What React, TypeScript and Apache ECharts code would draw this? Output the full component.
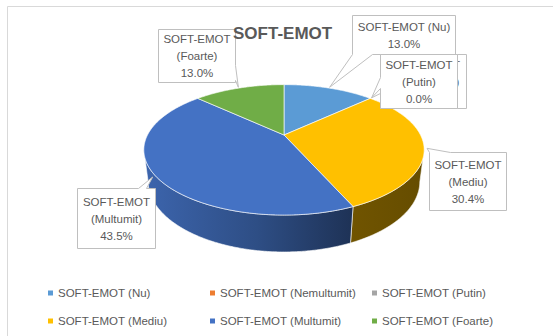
import React, { useEffect, useRef } from "react";
import * as echarts from "echarts";

// ---- data ----
const title = "SOFT-EMOT";
const categories = [
  "SOFT-EMOT (Nu)",
  "SOFT-EMOT (Nemultumit)",
  "SOFT-EMOT (Putin)",
  "SOFT-EMOT (Mediu)",
  "SOFT-EMOT (Multumit)",
  "SOFT-EMOT (Foarte)",
];
const percents = [13.0, 0.0, 0.0, 30.4, 43.5, 13.0];
const colors = ["#5B9BD5", "#ED7D31", "#A5A5A5", "#FFC000", "#4472C4", "#70AD47"];

// ---- layout (positions / sizes, not data) ----
const FONT = "Liberation Sans";
const CX = 284;
const CY = 135;
const R = 136.5;
const SIN_A = 0.453;
const COS_A = Math.sqrt(1 - SIN_A * SIN_A);
const DIST = 535;
const DEPTH = 36;

const calloutBoxes = [
  { x: 352, y: 15, w: 103, h: 39, wrap: false, side: "bottom", a: 352, b: 372 },
  { x: 386, y: 54, w: 80, h: 54, wrap: true, side: "left", a: 78, b: 90 },
  { x: 380, y: 54, w: 77, h: 54, wrap: true, side: "left", a: 77, b: 88 },
  { x: 429, y: 152, w: 77, h: 58, wrap: true, side: "top", a: 429, b: 450 },
  { x: 77, y: 188, w: 78, h: 60, wrap: true, side: "top", a: 138, b: 146 },
  { x: 158, y: 29, w: 77, h: 53, wrap: true, side: "right", a: 65, b: 80 },
];
const legendCols = [48, 210, 372];
const legendRows = [287, 315];

function proj(theta: number, w: number, r = 1): [number, number] {
  const u = R * r * Math.sin(theta);
  const v = R * r * Math.cos(theta);
  const z = v * COS_A - w * SIN_A;
  const s = DIST / (DIST + z);
  return [CX + s * u, CY - s * (v * SIN_A + w * COS_A)];
}

function arc(t1: number, t2: number, w: number): [number, number][] {
  const pts: [number, number][] = [];
  const n = Math.max(2, Math.ceil(Math.abs(t2 - t1) / 0.01));
  for (let i = 0; i <= n; i++) pts.push(proj(t1 + ((t2 - t1) * i) / n, w));
  return pts;
}

function shade(hex: string, f: number) {
  const n = parseInt(hex.slice(1), 16);
  const r = Math.round(((n >> 16) & 255) * f);
  const g = Math.round(((n >> 8) & 255) * f);
  const b = Math.round((n & 255) * f);
  return `rgb(${r},${g},${b})`;
}

const total = percents.reduce((s, v) => s + v, 0);
const angles: { t1: number; t2: number }[] = [];
{
  let acc = 0;
  percents.forEach((v) => {
    const t1 = (acc / total) * Math.PI * 2;
    acc += v;
    const t2 = (acc / total) * Math.PI * 2;
    angles.push({ t1, t2 });
  });
}
const RC = R * COS_A;
const SIL1 = Math.acos(-RC / DIST);
const SIL2 = Math.PI * 2 - SIL1;

export default function App() {
  const ref = useRef<HTMLDivElement>(null);
  useEffect(() => {
    if (!ref.current) return;
    const chart = echarts.init(ref.current, null, { renderer: "svg" });

    const option: any = {
      animation: false,
      title: {
        text: title,
        left: 233,
        top: 25,
        padding: 0,
        textStyle: { fontFamily: FONT, fontSize: 17, fontWeight: "bold", color: "#595959" },
      },
      graphic: [
        {
          type: "rect",
          shape: { x: 7.5, y: 6.5, width: 600, height: 400 },
          style: { fill: "none", stroke: "#D9D9D9", lineWidth: 1 },
          silent: true,
          z: -10,
        },
      ],
      legend: categories.map((name, i) => ({
        data: [name],
        left: legendCols[i % 3],
        top: legendRows[Math.floor(i / 3)],
        icon: "rect",
        itemWidth: 5,
        itemHeight: 5,
        padding: 0,
        selectedMode: false,
        textStyle: { fontFamily: FONT, fontSize: 11.5, color: "#595959" },
      })),
      series: [
        {
          type: "pie",
          name: "legend-source",
          center: [-500, -500],
          radius: 5,
          silent: true,
          label: { show: false },
          labelLine: { show: false },
          data: categories.map((name, i) => ({
            name,
            value: percents[i],
            itemStyle: { color: colors[i] },
          })),
        },
        {
          type: "custom",
          name: "walls",
          coordinateSystem: "none",
          z: 2,
          silent: true,
          data: percents,
          renderItem: (params: any) => {
            const i = params.dataIndex;
            const { t1, t2 } = angles[i];
            const a = Math.max(t1, SIL1);
            const b = Math.min(t2, SIL2);
            if (!(b > a)) return null;
            const pts = arc(a, b, 0).concat(arc(b, a, -DEPTH));
            const c = colors[i];
            return {
              type: "polygon",
              shape: { points: pts },
              style: {
                fill: new echarts.graphic.LinearGradient(
                  CX - R,
                  0,
                  CX + R,
                  0,
                  [
                    { offset: 0, color: shade(c, 0.88) },
                    { offset: 0.4, color: shade(c, 0.68) },
                    { offset: 0.75, color: shade(c, 0.44) },
                    { offset: 1, color: shade(c, 0.4) },
                  ],
                  true
                ),
                stroke: "rgba(255,255,255,0.75)",
                lineWidth: 0.8,
              },
            };
          },
        },
        {
          type: "custom",
          name: "tops",
          coordinateSystem: "none",
          z: 3,
          silent: true,
          data: percents,
          renderItem: (params: any) => {
            const i = params.dataIndex;
            const { t1, t2 } = angles[i];
            if (!(t2 > t1)) return null;
            const pts: [number, number][] = [[CX, CY]].concat(arc(t1, t2, 0)) as any;
            return {
              type: "polygon",
              shape: { points: pts },
              style: { fill: colors[i], stroke: "rgba(255,255,255,0.8)", lineWidth: 0.8 },
            };
          },
        },
        {
          type: "custom",
          name: "labels",
          coordinateSystem: "none",
          z: 4,
          silent: true,
          data: percents,
          renderItem: (params: any, api: any) => {
            const i = params.dataIndex;
            const v = api.value(0);
            const { t1, t2 } = angles[i];
            const tip = proj((t1 + t2) / 2, 0, 1.02);
            const bx = calloutBoxes[i];
            const x = bx.x + 0.5;
            const y = bx.y + 0.5;
            const w = bx.w;
            const h = bx.h;
            const pts: [number, number][] = [[x, y]];
            if (bx.side === "top") pts.push([bx.a + 0.5, y], tip, [bx.b + 0.5, y]);
            pts.push([x + w, y]);
            if (bx.side === "right") pts.push([x + w, bx.a + 0.5], tip, [x + w, bx.b + 0.5]);
            pts.push([x + w, y + h]);
            if (bx.side === "bottom") pts.push([bx.b + 0.5, y + h], tip, [bx.a + 0.5, y + h]);
            pts.push([x, y + h]);
            if (bx.side === "left") pts.push([x, bx.b + 0.5], tip, [x, bx.a + 0.5]);
            const name = bx.wrap ? categories[i].replace(" (", "\n(") : categories[i];
            return {
              type: "group",
              children: [
                {
                  type: "polygon",
                  shape: { points: pts },
                  style: { fill: "#FFFFFF", stroke: "#BFBFBF", lineWidth: 1 },
                },
                {
                  type: "text",
                  style: {
                    text: name + "\n" + v.toFixed(1) + "%",
                    x: x + w / 2,
                    y: y + h / 2,
                    align: "center",
                    verticalAlign: "middle",
                    fill: "#595959",
                    fontFamily: FONT,
                    fontSize: 11.5,
                    lineHeight: 17,
                  },
                },
              ],
            };
          },
        },
      ],
    };
    chart.setOption(option);
    return () => chart.dispose();
  }, []);
  return (
    <div
      ref={ref}
      style={{ position: "absolute", left: 0, top: 0, width: 553, height: 336, background: "#fff" }}
    />
  );
}
